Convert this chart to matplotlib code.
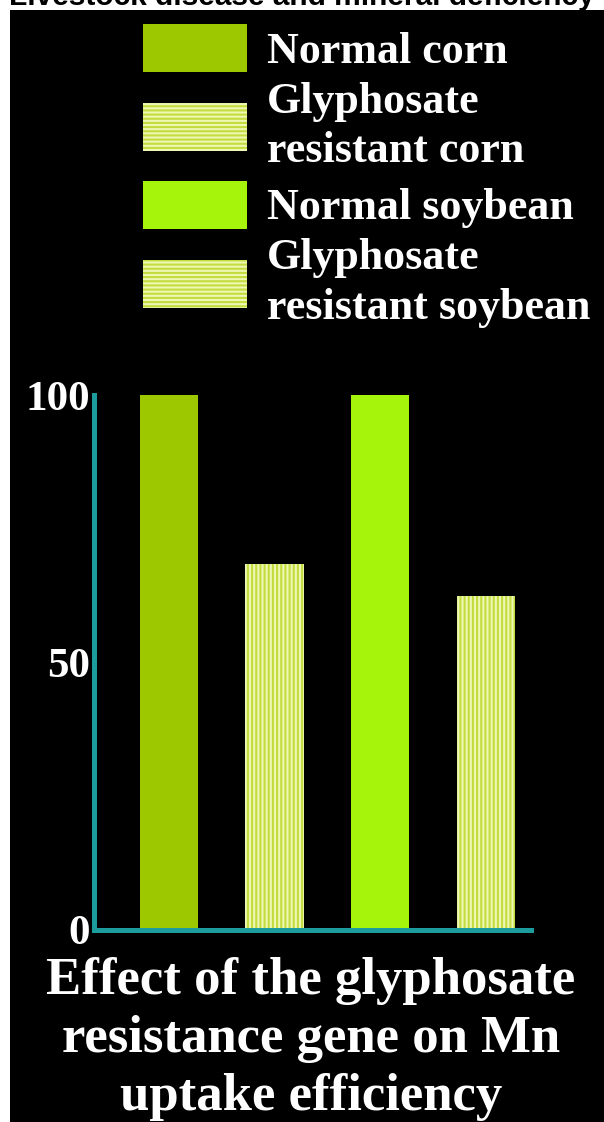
import matplotlib.pyplot as plt
from matplotlib.patches import Patch, Rectangle

# %%
# data
categories = ['Normal corn', 'Glyphosate\nresistant corn',
              'Normal soybean', 'Glyphosate\nresistant soybean']
mn_uptake = [100, 68.5, 100, 62.5]
yticks = [0, 50, 100]
bar_colors = ['#9dc800', '#eef7b4', '#a6f30c', '#eef7b4']
stripe_colors = ['#9dc800', '#c4dd3e', '#a6f30c', '#c4dd3e']
striped = [False, True, False, True]

page_title = 'Livestock disease and mineral deficiency'
chart_title = 'Effect of the glyphosate\nresistance gene on Mn\nuptake efficiency'

# %%
W, H = 604, 1122
plt.rcParams['hatch.linewidth'] = 1.5
serif = ['Liberation Serif', 'DejaVu Serif']
teal = '#1c9c9c'

fig = plt.figure(figsize=(W / 100, H / 100), dpi=100, facecolor='white')

# black slide panel
fig.patches.append(Rectangle((10 / W, 0), 1 - 10 / W, 1 - 10 / H,
                             transform=fig.transFigure, facecolor='black',
                             edgecolor='none', zorder=-5))

# page title, clipped at the top edge
fig.text(0.5, 1 - 5 / H, page_title, ha='center', va='baseline',
         fontsize=21.5, fontweight='bold', family=['Liberation Sans'],
         color='black', zorder=1)

ax = fig.add_axes([94 / W, (H - 930) / H, (531 - 94) / W, 535 / H])
ax.set_facecolor('none')
ax.set_zorder(2)

for i, (val, fc, ec, st) in enumerate(zip(mn_uptake, bar_colors, stripe_colors, striped)):
    ax.bar(i, val, width=0.55, color=fc, edgecolor=ec, linewidth=0,
           hatch='||||' if st else None, zorder=2)

ax.set_xlim(-0.71, 3.43)
ax.set_ylim(0, 100)
ax.set_xticks([])
ax.set_yticks(yticks)
ax.set_yticklabels([str(t) for t in yticks])
ax.tick_params(axis='y', length=0, pad=3, labelcolor='white', labelsize=31)
for lab in ax.get_yticklabels():
    lab.set_family(serif)
    lab.set_fontweight('bold')

for side in ['top', 'right']:
    ax.spines[side].set_visible(False)
for side in ['left', 'bottom']:
    ax.spines[side].set_color(teal)
    ax.spines[side].set_linewidth(3.6)
    ax.spines[side].set_zorder(3)

# legend swatches use horizontal stripes
handles = [Patch(facecolor=fc, edgecolor=ec, linewidth=0,
                 hatch='----' if st else None)
           for fc, ec, st in zip(bar_colors, stripe_colors, striped)]
leg = fig.legend(handles, categories, loc='upper left',
                 bbox_to_anchor=(143 / W, 1 - 24 / H),
                 frameon=False, borderpad=0, borderaxespad=0,
                 handlelength=2.36, handleheight=1.3, handletextpad=0.45,
                 labelspacing=0.22,
                 prop={'family': serif, 'weight': 'bold', 'size': 31.7})
for t in leg.get_texts():
    t.set_color('white')
    t.set_linespacing(1.3)

fig.text(311 / W, 1 - 957 / H, chart_title, ha='center', va='top',
         fontsize=38, fontweight='bold', family=serif, color='white',
         linespacing=1.27)

plt.savefig('out.png', dpi=100, facecolor='white')
